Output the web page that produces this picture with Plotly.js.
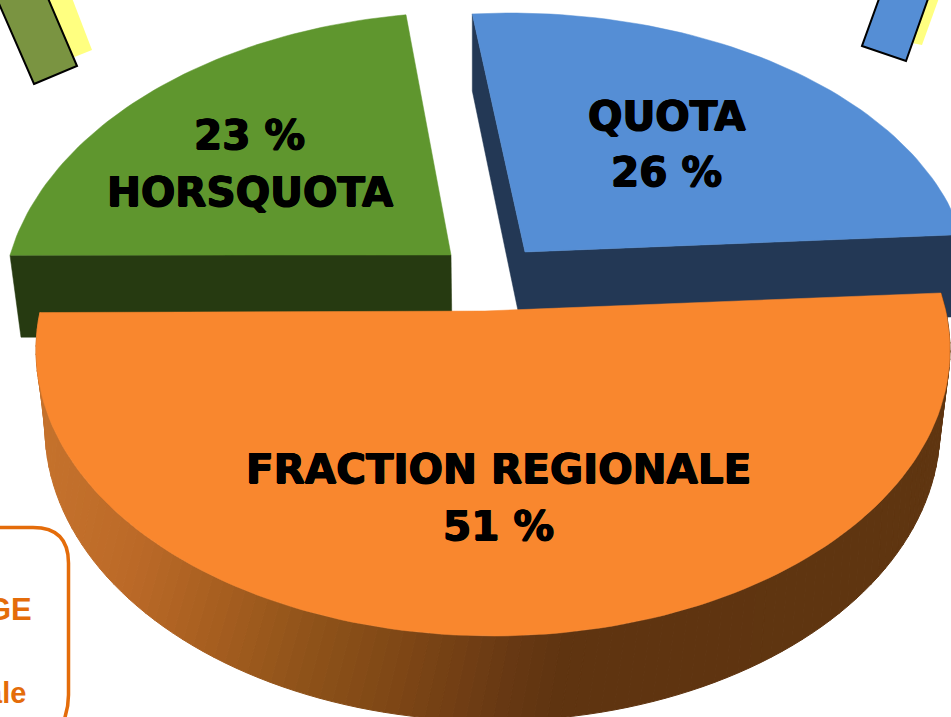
<!DOCTYPE html>
<html>
<head>
<meta charset="utf-8">
<script src="https://cdn.plot.ly/plotly-3.0.1.min.js"></script>
<style>html,body{margin:0;padding:0;background:#fff;overflow:hidden}#chart{width:951px;height:717px}</style>
</head>
<body>
<div id="chart"></div>
<script>
// ---- data ----
const categories = ['FRACTION REGIONALE', 'QUOTA', 'HORSQUOTA'];
const shares = [51, 26, 23];

// ---- drawing styles and perspective geometry ----
const topColors = ['#F9872E', '#558ED5', '#5F962E'];
const wallColors = ['#5F3510', '#233855', '#263A11'];
const ellipses = [
  {cx: 493, cy: 350, rx: 457, ry: 286, start: 11.5, scale: 1.084},
  {cx: 510, cy: 287, rx: 460, ry: 274, start: 94.7, scale: 0.894},
  {cx: 470, cy: 310, rx: 468, ry: 298, start: 169.4, scale: 0.864}
];
const apexes = [[485, 311], [525, 252], [451, 255]];
const lowerRim = {cx: 492.5, cy: 428, rx: 447.5, ry: 293, from: 15, to: -195};
const wallStops = [[40,[197,114,44]],[120,[188,106,40]],[200,[168,95,32]],[300,[142,82,25]],[400,[124,69,21]],[500,[103,56,19]],[550,[95,52,16]],[951,[95,53,16]]];
const labelPositions = [
  [[498, 469], [498, 526]],
  [[667, 116], [666, 172]],
  [[250, 192], [249, 135]]
];

// ---- geometry helpers ----
const total = shares.reduce((a, b) => a + b, 0);
const sweepOf = i => shares[i] / total * 360 * ellipses[i].scale;
function onEllipse(e, deg) {
  const t = deg * Math.PI / 180;
  return [e.cx + e.rx * Math.cos(t), e.cy - e.ry * Math.sin(t)];
}
function arc(e, from, to, n) {
  const pts = [];
  for (let k = 0; k <= n; k++) pts.push(onEllipse(e, from + (to - from) * k / n));
  return pts;
}
function wallColor(x) {
  for (let i = 1; i < wallStops.length; i++) {
    if (x <= wallStops[i][0]) {
      const a = wallStops[i - 1], b = wallStops[i];
      const f = Math.max(0, (x - a[0]) / (b[0] - a[0]));
      return 'rgb(' + a[1].map((v, j) => Math.round(v + (b[1][j] - v) * f)).join(',') + ')';
    }
  }
  return 'rgb(95,53,16)';
}
function poly(pts, color, lineWidth) {
  const closed = pts.concat([pts[0]]);
  return {
    type: 'scatter', mode: 'lines', x: closed.map(p => p[0]), y: closed.map(p => p[1]),
    fill: 'toself', fillcolor: color,
    line: {color: color, width: lineWidth || 0.5},
    hoverinfo: 'skip', showlegend: false
  };
}

const traces = [];

// Green slice wall and top
{
  const e = ellipses[2], s = e.start, end = s - sweepOf(2);
  const left = onEllipse(e, s), a = apexes[2];
  traces.push(poly([left, [left[0] + 11, left[1] + 82], [a[0] + 1, left[1] + 82], [a[0], a[1]]], wallColors[2]));
  traces.push(poly(arc(e, s, end, 60).concat([a]), topColors[2]));
}
// Blue slice wall and top
{
  const e = ellipses[1], s = e.start, end = s - sweepOf(1);
  const first = onEllipse(e, s), last = onEllipse(e, end), a = apexes[1];
  traces.push(poly([first, [first[0], first[1] + 77], [a[0] - 3, a[1] + 78], [last[0], last[1] + 82], last, a], wallColors[1]));
  traces.push(poly(arc(e, s, end, 60).concat([a]), topColors[1]));
}
// Orange slice: shaded outer wall, then top
{
  const e = ellipses[0], s = e.start, end = s - sweepOf(0), n = 120;
  for (let k = 0; k < n; k++) {
    const f0 = k / n, f1 = (k + 1) / n;
    const u0 = onEllipse(e, s + (end - s) * f0), u1 = onEllipse(e, s + (end - s) * f1);
    const d0 = onEllipse(lowerRim, lowerRim.from + (lowerRim.to - lowerRim.from) * f0);
    const d1 = onEllipse(lowerRim, lowerRim.from + (lowerRim.to - lowerRim.from) * f1);
    traces.push(poly([u0, u1, d1, d0], wallColor((d0[0] + d1[0]) / 2), 1));
  }
  traces.push(poly(arc(e, s, end, 120).concat([apexes[0]]), topColors[0]));
}

// Labels built from the data
const labelFont = {family: '"DejaVu Sans", sans-serif', size: 40.5, color: '#000', weight: 700,
  shadow: '0.7px 0 0 #000, -0.7px 0 0 #000, 0 0.5px 0 #000, 0 -0.5px 0 #000'};
const annotations = [];
categories.forEach((c, i) => {
  const pos = labelPositions[i];
  annotations.push({x: pos[0][0], y: pos[0][1], text: '<b>' + c + '</b>', showarrow: false, font: labelFont, xanchor: 'center', yanchor: 'middle'});
  annotations.push({x: pos[1][0], y: pos[1][1], text: '<b>' + shares[i] + ' %</b>', showarrow: false, font: labelFont, xanchor: 'center', yanchor: 'middle'});
});
const boxFont = {family: '"Liberation Sans", Arial, sans-serif', color: '#E46C0A'};
annotations.push({x: 34, y: 609, text: '<b>GE</b>', showarrow: false, xanchor: 'right', yanchor: 'middle', font: Object.assign({size: 31}, boxFont)});
annotations.push({x: 28, y: 693, text: '<b>ale</b>', showarrow: false, xanchor: 'right', yanchor: 'middle', font: Object.assign({size: 29}, boxFont)});

// Cropped surrounding decoration
const shapes = [
  {type: 'path', path: 'M 48 -2 L 72 -2 L 92 50 L 72 58 Z', fillcolor: '#FFFF80', line: {width: 0}},
  {type: 'path', path: 'M 34 84 L 77 66 L 47 -4 L -3 -1 Z', fillcolor: '#7A9441', line: {color: '#000', width: 2}},
  {type: 'path', path: 'M 928 -2 L 939 -2 L 922 45 L 912 43 Z', fillcolor: '#FFFF80', line: {width: 0}},
  {type: 'path', path: 'M 862 46 L 906 61 L 929 -4 L 880 -4 Z', fillcolor: '#558ED5', line: {color: '#000', width: 2}},
  {type: 'path', path: 'M -20 527.5 L 33 527.5 Q 68.5 527.5 68.5 563 L 68.5 695 Q 68.5 712 60 730', fillcolor: 'rgba(0,0,0,0)', line: {color: '#E46C0A', width: 3.5}}
];

Plotly.newPlot('chart', traces, {
  width: 951, height: 717,
  margin: {l: 0, r: 0, t: 0, b: 0},
  paper_bgcolor: '#fff', plot_bgcolor: '#fff',
  showlegend: false,
  xaxis: {range: [0, 951], visible: false, fixedrange: true},
  yaxis: {range: [717, 0], visible: false, fixedrange: true},
  shapes: shapes,
  annotations: annotations
}, {displayModeBar: false, staticPlot: true});
</script>
</body>
</html>
